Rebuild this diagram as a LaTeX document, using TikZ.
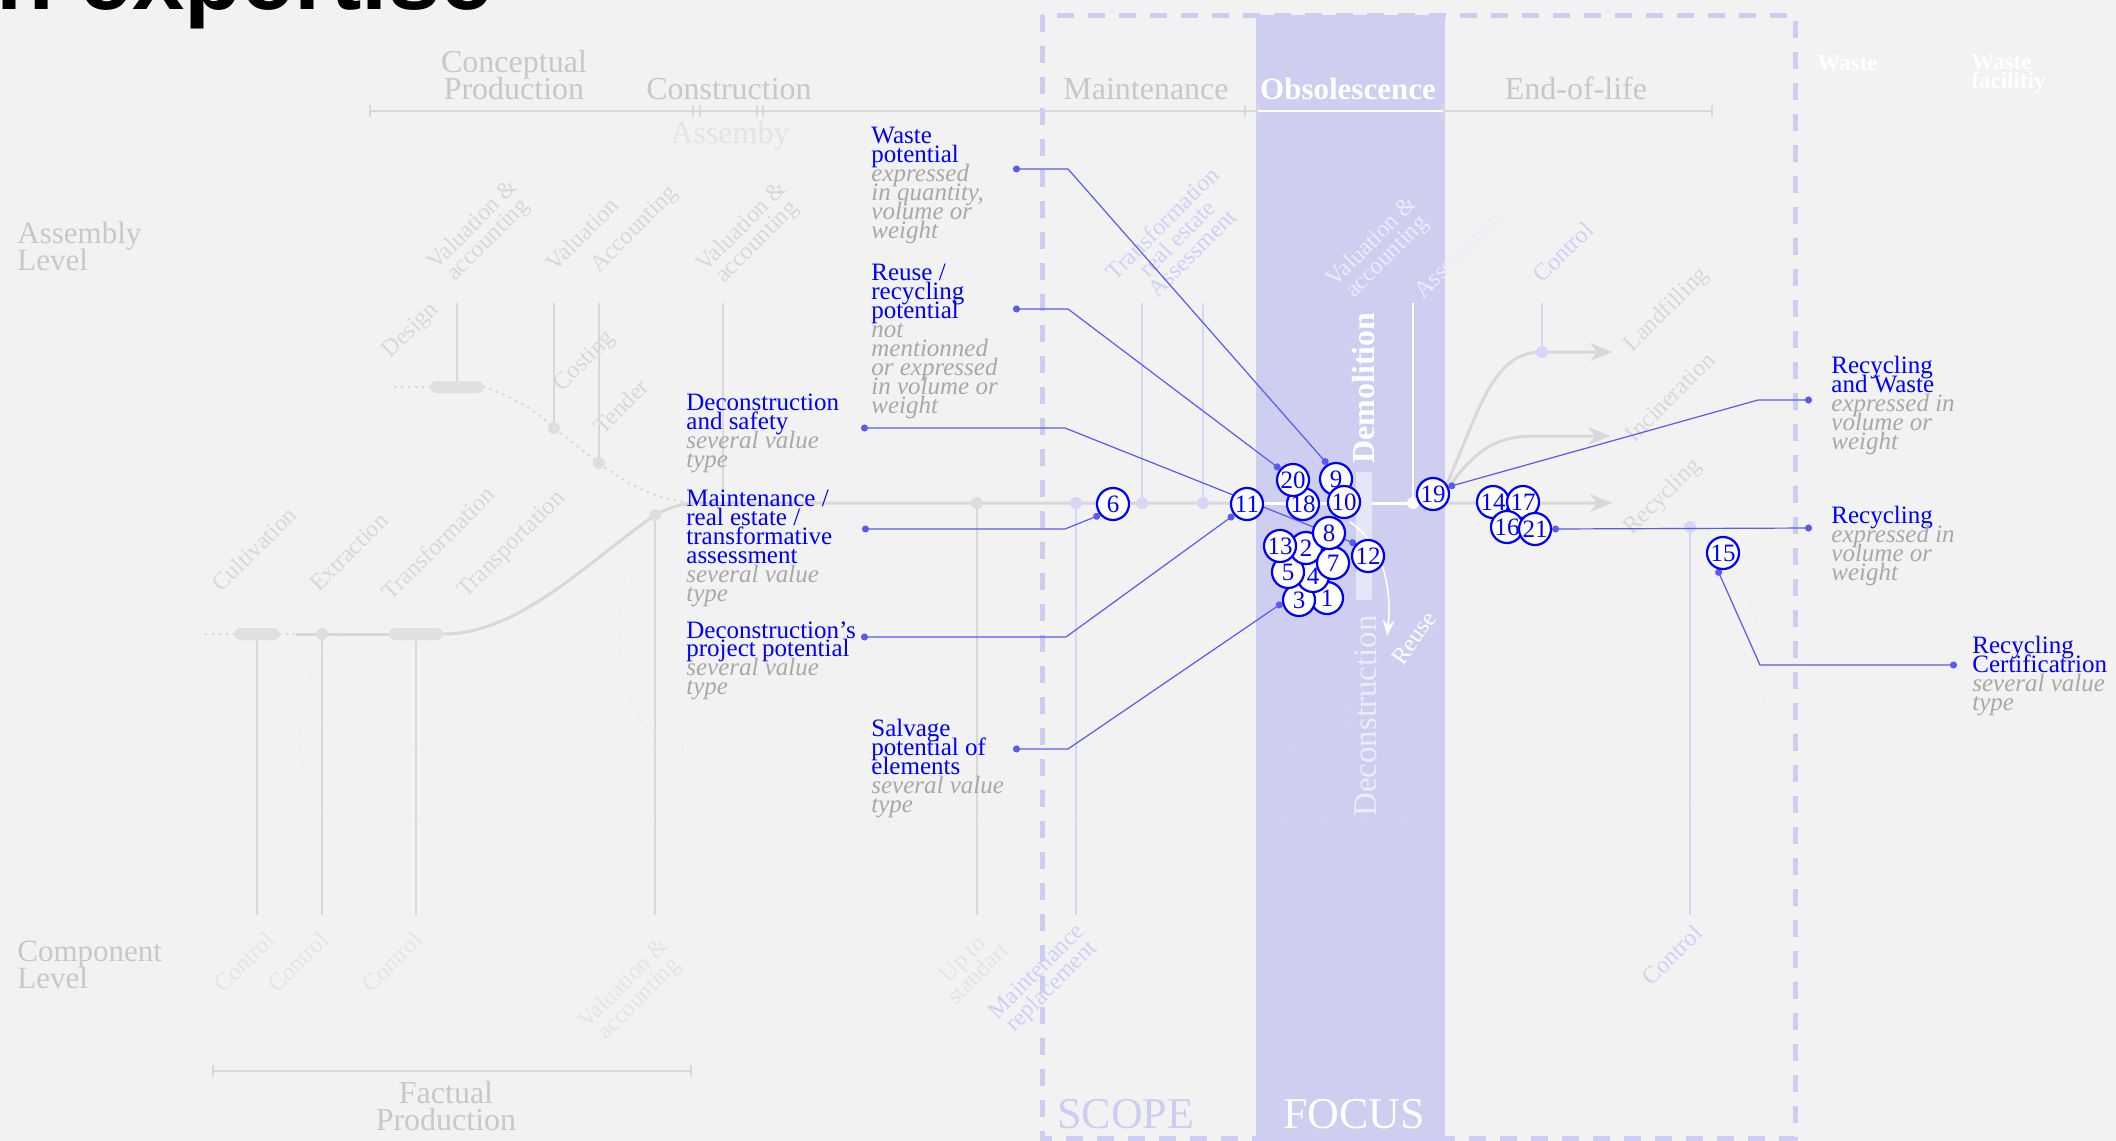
\documentclass[tikz,border=0pt]{standalone}
\usepackage{fontspec}
\setmainfont{Liberation Serif}
\newfontfamily\headfont{Liberation Sans}
\usepackage{xcolor}
\usetikzlibrary{arrows.meta, positioning}

\definecolor{bggrey}{RGB}{242,242,242}
\definecolor{focuslav}{RGB}{206,206,240}
\definecolor{scopelav}{RGB}{205,205,243}
\definecolor{lavline}{RGB}{214,214,246}
\definecolor{lavtext}{RGB}{208,208,246}
\definecolor{bandwhite}{RGB}{236,236,250}
\definecolor{barlav}{RGB}{230,230,248}
\definecolor{linegrey}{RGB}{216,216,216}
\definecolor{knotgrey}{RGB}{222,222,222}
\definecolor{pillgrey}{RGB}{224,224,224}
\definecolor{phasegrey}{RGB}{200,200,200}
\definecolor{faintgrey}{RGB}{228,228,228}
\definecolor{tiltgrey}{RGB}{216,216,216}
\definecolor{subgrey}{RGB}{168,168,168}
\definecolor{trailgrey}{RGB}{226,226,226}
\definecolor{numblue}{RGB}{0,0,255}
\definecolor{connblue}{RGB}{90,90,240}

\pgfdeclarelayer{under}
\pgfdeclarelayer{base}
\pgfdeclarelayer{wires}
\pgfsetlayers{under,base,wires,main}

\lineskiplimit=-\maxdimen
\newcommand{\subtxt}[1]{{\color{subgrey}\itshape #1}}

\begin{document}
\begin{tikzpicture}[
    x = 0.5pt, y = -0.5pt,
    numc/.style = {circle, draw = numblue, line width = 1.1pt, fill = white, text = numblue, inner sep = 0pt, minimum size = 16pt, font = \fontsize{12.5}{12.5}\selectfont},
    lbl/.style = {anchor = north west, inner sep = 0pt, align = left, text = numblue, font = \fontsize{12.5}{9.45}\selectfont},
    phase/.style = {inner sep = 0pt, align = center, text = phasegrey, font = \fontsize{16}{13.5}\selectfont},
    lvl/.style = {anchor = north west, inner sep = 0pt, align = left, text = phasegrey, font = \fontsize{15.5}{13.5}\selectfont},
    tilt/.style = {rotate = 45, inner sep = 0pt, align = center, text = tiltgrey, font = \fontsize{12}{10.5}\selectfont},
    conn/.style = {draw = connblue, line width = 0.6pt, {Circle[length = 3.5pt]}-{Circle[length = 3.5pt]}},
    procline/.style = {draw = linegrey, line width = 1.5pt},
    dotline/.style = {procline, line cap = round, dash pattern = on 0pt off 3.5pt},
    stem/.style = {draw = linegrey, line width = 0.7pt},
    lavstem/.style = {draw = lavline, line width = 0.7pt},
    knot/.style = {circle, fill = knotgrey, inner sep = 0pt, minimum size = 6pt},
    pill/.style = {rectangle, rounded corners = 3pt, fill = pillgrey, inner sep = 0pt, minimum height = 6pt},
    trail/.style = {draw = trailgrey, line width = 0.5pt, dotted},
    bigtip/.style = {-{Stealth[length = 11pt, width = 9pt]}},
    ]

    \useasboundingbox (0,0) rectangle (2116,1141);

    % fixed points of the process lines
    \coordinate (vtop) at (0,303);
    \coordinate (vbot) at (0,915);
    \coordinate (merge) at (700,503);
    \coordinate (jCons) at (723,503);
    \coordinate (fork) at (1438,503);
    \coordinate (aMain) at (1612,503);
    \coordinate (aLand) at (1612,352);
    \coordinate (aInc) at (1610,436);

    % knots and pills on the process lines
    \begin{pgfonlayer}{base}
    \node [pill, minimum width = 26.5pt] (pDesign) at (457,387) {};
    \node [knot] (dCost) at (554,428) {};
    \node [knot] (dTender) at (599,463) {};
    \node [pill, minimum width = 22.5pt] (pCult) at (257,634) {};
    \node [knot] (dExtr) at (322,634) {};
    \node [pill, minimum width = 27pt] (pTransf) at (416,634) {};
    \node [knot] (dAcc) at (655,515) {};
    \node [knot] (dUp) at (977,503) {};
    \node [knot, fill = lavline] (dMaintRep) at (1076,503) {};
    \node [knot, fill = lavline] (dTransf) at (1142,503) {};
    \node [knot, fill = lavline] (dReal) at (1203,503) {};
    \node [knot, fill = white] (dDemo) at (1413,503) {};
    \node [knot, fill = lavline] (dCtrl) at (1542,352) {};
    \node [knot, fill = lavline] (dRec) at (1690,527) {};
    \end{pgfonlayer}

    \begin{pgfonlayer}{under}
    \clip (0,0) rectangle (2116,1141);
    \fill [bggrey] (0,0) rectangle (2116,1141);
    % focus band
    \fill [focuslav] (1256,15) rectangle (1445,1141);

    % faint loops
    \draw [trail] (aMain) .. controls (1700,510) and (1765,580) .. (1765,680) .. controls (1765,770) and (1700,822) .. (1605,822) -- (360,822) .. controls (315,822) and (300,785) .. (300,730) .. controls (300,680) and (325,640) .. (345,634);
    \draw [trail] (1385,645) .. controls (1360,700) and (1340,747) .. (1290,747) -- (703,747) .. controls (640,747) and (620,700) .. (620,630) .. controls (620,570) and (635,530) .. (650,518);
    \draw [trail] (703,747) -- (400,747) .. controls (350,747) and (320,730) .. (304,700);

    % phase axes
    \draw [stem] (370,111) -- (1712,111);
    \foreach \x in {370,693,700,757,763,1245,1258,1443,1712}
        \draw [stem] (\x,105) -- (\x,117);
    \draw [white, line width = 0.7pt] (1258,111) -- (1443,111);
    \draw [stem] (213,1071) -- (691,1071);
    \foreach \x in {213,691}
        \draw [stem] (\x,1065) -- (\x,1077);

    % verticals to the labels
    \foreach \n in {pDesign, dCost, dTender, jCons}
        \draw [stem] (\n) -- (\n |- vtop);
    \foreach \n in {pCult, dExtr, pTransf, dAcc, dUp}
        \draw [stem] (\n) -- (\n |- vbot);
    \foreach \n in {dTransf, dReal, dCtrl}
        \draw [lavstem] (\n) -- (\n |- vtop);
    \foreach \n in {dMaintRep, dRec}
        \draw [lavstem] (\n) -- (\n |- vbot);
    \draw [white, line width = 0.7pt] (dDemo) -- (dDemo |- vtop);

    % process lines
    \draw [dotline] (pDesign.west) -- ++(-42,0);
    \draw [dotline] (pDesign.east) .. controls (510,395) and (535,410) .. (dCost.center) -- (dTender.center) .. controls (630,487) and (665,503) .. (merge);
    \draw [dotline] (pCult.west) -- ++(-28,0);
    \draw [dotline] (pCult.east) -- ++(16,0);
    \draw [procline] (pCult.east) ++(16,0) -- (dExtr) -- (pTransf);
    \draw [procline, bigtip] (pTransf.east) .. controls (520,634) and (590,560) .. (dAcc.center) .. controls (672,506) and (685,503) .. (merge) -- (aMain);
    \draw [white, line width = 1.5pt] (1256,503) -- (1445,503);
    \draw [procline, bigtip] (fork) .. controls (1478,420) and (1488,352) .. (dCtrl.center) -- (aLand);
    \draw [procline, bigtip] (fork) .. controls (1472,450) and (1495,436) .. (1535,436) -- (aInc);

    % reuse bar and arrow
    \fill [barlav] (1356,472) rectangle (1372,600);
    \draw [white, line width = 0.8pt, -{Stealth[length = 8pt, width = 6pt]}] (1350,522) .. controls (1384,545) and (1392,590) .. (1387,636);
    \end{pgfonlayer}

    \begin{pgfonlayer}{base}
    % phase and level labels
    \node [phase, anchor = north] (tConcept) at (514,50) {Conceptual\\Production};
    \node [phase, anchor = base] (tConstr) at (729,99) {Construction};
    \node [phase, anchor = base, text = faintgrey] (tAssemby) at (730,143) {Assemby};
    \node [phase, anchor = base] (tMaint) at (1146,99) {Maintenance};
    \node [phase, anchor = base, text = white, font = \fontsize{15.5}{13.5}\selectfont\bfseries] (tObs) at (1348,99) {Obsolescence};
    \node [phase, anchor = base] (tEnd) at (1576,99) {End-of-life};
    \node [anchor = base west, inner sep = 0pt, text = white, font = \fontsize{11.5}{9.5}\selectfont\bfseries] (tWaste) at (1817,70) {Waste};
    \node [anchor = north west, inner sep = 0pt, align = left, text = white, font = \fontsize{11.5}{9.5}\selectfont\bfseries] (tFacility) at (1971,54) {Waste\\facilitiy};
    \node [lvl] (tAsmLevel) at (17,222) {Assembly\\Level};
    \node [lvl] (tCompLevel) at (17,941) {Component\\Level};
    \node [phase, anchor = north] (tFactual) at (446,1081) {Factual\\Production};

    % tilted step labels
    \node [tilt] (tValAcc1) at (481,233) {Valuation \&\\accounting};
    \node [tilt] (tVal) at (582,234) {Valuation};
    \node [tilt] (tAcc) at (635,230) {Accounting};
    \node [tilt] (tValAcc2) at (750,235) {Valuation \&\\accounting};
    \node [tilt] (tDesign) at (411,331) {Design};
    \node [tilt] (tCosting) at (585,362) {Costing};
    \node [tilt] (tTender) at (621,406) {Tender};
    \node [tilt] (tCult) at (254,549) {Cultivation};
    \node [tilt] (tExtr) at (349,552) {Extraction};
    \node [tilt] (tTransf) at (438,543) {Transformation};
    \node [tilt] (tTransp) at (512,545) {Transportation};
    \node [tilt, text = faintgrey] (tCtrl1) at (244,962) {Control};
    \node [tilt, text = faintgrey] (tCtrl2) at (298,962) {Control};
    \node [tilt, text = faintgrey] (tCtrl3) at (392,962) {Control};
    \node [tilt, text = faintgrey] (tValAcc3) at (632,992) {Valuation \&\\accounting};
    \node [tilt, text = faintgrey] (tUpStd) at (970,966) {Up to\\standart};
    \node [tilt, text = lavtext] (tMaintRep) at (1045,980) {Maintenance\\replacement};
    \node [tilt, text = lavtext] (tCtrl4) at (1672,955) {Control};
    \node [tilt, text = lavtext] (tTransfReal) at (1177,238) {Transformation\\real estate\\Assessment};
    \node [tilt, text = lavtext] (tCtrl5) at (1563,252) {Control};
    \node [tilt, text = bandwhite] (tValAcc4) at (1380,250) {Valuation \&\\accounting};
    \node [tilt, text = bandwhite] (tAssess) at (1458,254) {Assessment};
    \node [tilt] (tLand) at (1667,310) {Landfilling};
    \node [tilt] (tInc) at (1670,397) {Incineration};
    \node [tilt] (tRecyc) at (1663,497) {Recycling};
    \node [tilt, text = white, rotate = 10] (tReuse) at (1414,638) {Reuse};

    % band words
    \node [rotate = 90, inner sep = 0pt, text = white, font = \fontsize{16}{16}\selectfont\bfseries] (tDemo) at (1364,388) {Demolition};
    \node [rotate = 90, inner sep = 0pt, text = bandwhite, font = \fontsize{16.5}{16.5}\selectfont] (tDecon) at (1366,716) {Deconstruction};
    \node [anchor = base west, inner sep = 0pt, text = scopelav, font = \fontsize{22}{22}\selectfont] (tScope) at (1057,1128) {SCOPE};
    \node [anchor = base west, inner sep = 0pt, text = white, font = \fontsize{22}{22}\selectfont] (tFocus) at (1283,1128) {FOCUS};

    % scope frame
    \draw [scopelav, line width = 2.5pt, dash pattern = on 8.5pt off 7pt] (1042,15) rectangle (1795,1138);
    \end{pgfonlayer}

    % cut title
    \node [anchor = base west, inner sep = 0pt, font = \headfont\bfseries\fontsize{47}{47}\selectfont] (tTitle) at (-4,9) {n expertise};

    % numbered points
    \node [numc] (c1) at (1327,598) {1};
    \node [numc] (c3) at (1299,600) {3};
    \node [numc] (c4) at (1313,576) {4};
    \node [numc] (c5) at (1288,572) {5};
    \node [numc] (c2) at (1306,548) {2};
    \node [numc] (c7) at (1333,563) {7};
    \node [numc] (c13) at (1280,546) {13};
    \node [numc] (c8) at (1329,533) {8};
    \node [numc] (c12) at (1368,556) {12};
    \node [numc] (c9) at (1336,479) {9};
    \node [numc] (c10) at (1344,502) {10};
    \node [numc] (c18) at (1303,504) {18};
    \node [numc] (c20) at (1293,480) {20};
    \node [numc] (c11) at (1247,504) {11};
    \node [numc] (c6) at (1113,504) {6};
    \node [numc] (c19) at (1433,494) {19};
    \node [numc] (c14) at (1493,502) {14};
    \node [numc] (c17) at (1523,502) {17};
    \node [numc] (c16) at (1507,527) {16};
    \node [numc] (c21) at (1535,529) {21};
    \node [numc] (c15) at (1723,553) {15};

    % annotation labels
    \node [lbl] (lWaste) at (871,127) {Waste\\potential\\\subtxt{expressed}\\\subtxt{in quantity,}\\\subtxt{volume or}\\\subtxt{weight}};
    \node [lbl] (lReuse) at (871,264) {Reuse /\\recycling\\potential\\\subtxt{not}\\\subtxt{mentionned}\\\subtxt{or expressed}\\\subtxt{in volume or}\\\subtxt{weight}};
    \node [lbl] (lDecSafe) at (686,394) {Deconstruction\\and safety\\\subtxt{several value}\\\subtxt{type}};
    \node [lbl] (lMaint) at (686,490) {Maintenance /\\real estate /\\transformative\\assessment\\\subtxt{several value}\\\subtxt{type}};
    \node [lbl] (lDecProj) at (686,621) {Deconstruction’s\\project potential\\\subtxt{several value}\\\subtxt{type}};
    \node [lbl] (lSalvage) at (871,719) {Salvage\\potential of\\elements\\\subtxt{several value}\\\subtxt{type}};
    \node [lbl] (lRecWaste) at (1831,356) {Recycling\\and Waste\\\subtxt{expressed in}\\\subtxt{volume or}\\\subtxt{weight}};
    \node [lbl] (lRecycling) at (1831,506) {Recycling\\\subtxt{expressed in}\\\subtxt{volume or}\\\subtxt{weight}};
    \node [lbl] (lRecCert) at (1972,636) {Recycling\\Certificatrion\\\subtxt{several value}\\\subtxt{type}};

    \coordinate (sWaste) at (1013,169);
    \coordinate (sReuse) at (1013,309);
    \coordinate (sDecSafe) at (861,428);
    \coordinate (sMaint) at (862,529);
    \coordinate (sDecProj) at (861,637);
    \coordinate (sSalvage) at (1013,749);
    \coordinate (sRecWaste) at (1812,400);
    \coordinate (sRecycling) at (1812,528);
    \coordinate (sRecCert) at (1957,665);

    % leader lines
    \begin{pgfonlayer}{wires}
    \draw [conn] (sWaste) -- ++(55,0) -- (c9.120);
    \draw [conn] (sReuse) -- ++(55,0) -- (c20.140);
    \draw [conn] (sDecSafe) -- ++(204,0) -- (c12.135);
    \draw [conn] (sMaint) -- ++(203,0) -- (c6.220);
    \draw [conn] (sDecProj) -- ++(205,0) -- (c11.220);
    \draw [conn] (sSalvage) -- ++(55,0) -- (c3.190);
    \draw [conn] (sRecWaste) -- ++(-54,0) -- (c19.25);
    \draw [conn] (sRecycling) -- (c21.east);
    \draw [conn] (sRecCert) -- ++(-197,0) -- (c15.250);
    \end{pgfonlayer}
\end{tikzpicture}
\end{document}
